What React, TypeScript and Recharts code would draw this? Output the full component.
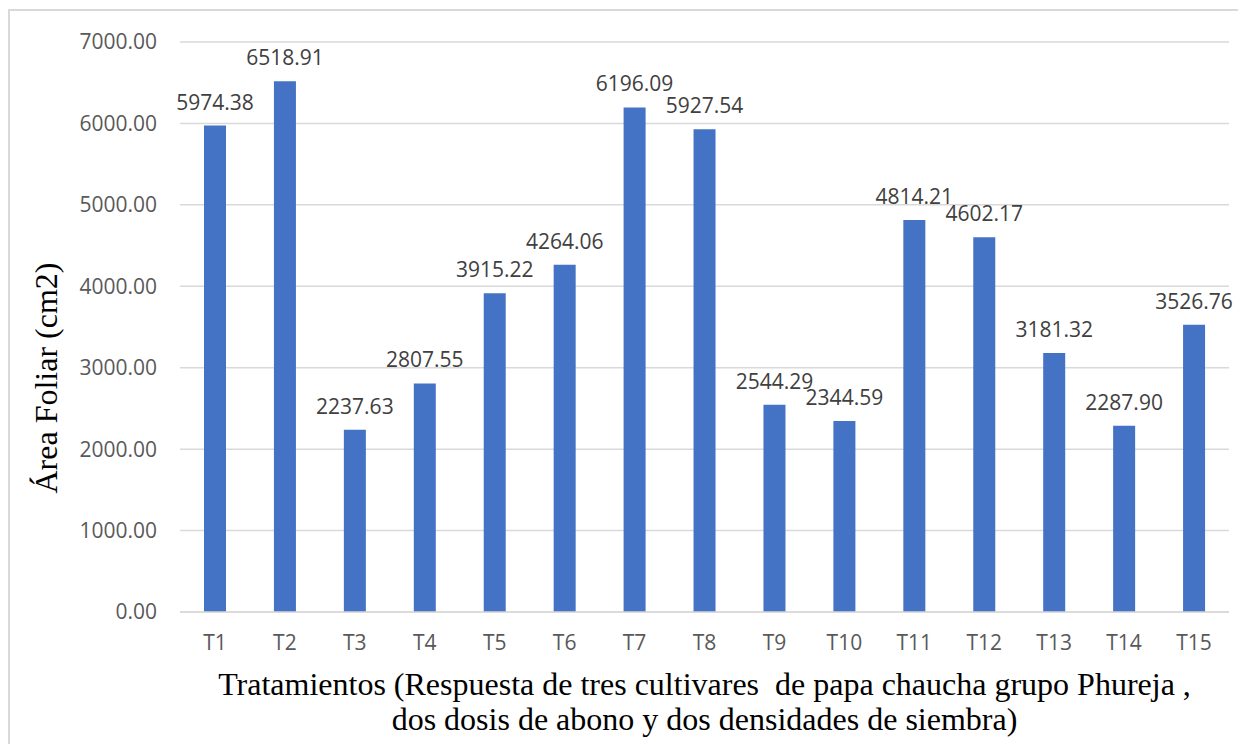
import { BarChart, Bar, XAxis, YAxis, CartesianGrid, LabelList, Label } from "recharts";

const tratamientos = ["T1", "T2", "T3", "T4", "T5", "T6", "T7", "T8", "T9", "T10", "T11", "T12", "T13", "T14", "T15"];
const areaFoliar = [5974.38, 6518.91, 2237.63, 2807.55, 3915.22, 4264.06, 6196.09, 5927.54, 2544.29, 2344.59, 4814.21, 4602.17, 3181.32, 2287.9, 3526.76];
const yTicks = [0, 1000, 2000, 3000, 4000, 5000, 6000, 7000];

const xTitle = [
  "Tratamientos (Respuesta de tres cultivares  de papa chaucha grupo Phureja ,",
  "dos dosis de abono y dos densidades de siembra)",
];
const yTitle = "Área Foliar (cm2)";

const data = tratamientos.map((t, i) => ({ name: t, value: areaFoliar[i] }));

const SANS = "'Open Sans', sans-serif";
const SERIF = "'Liberation Serif', 'Times New Roman', serif";
const BLUE = "#4472C4";
const GRID = "#d9d9d9";

const W = 1238;
const H = 736;

// two-line axis title under the category labels
const XTitle = ({ viewBox }: any) => {
  const cx = viewBox.x + viewBox.width / 2;
  return (
    <g>
      {xTitle.map((line, i) => (
        <text
          key={i}
          x={cx}
          y={687 + i * 35}
          textAnchor="middle"
          fontFamily={SERIF}
          fontSize={32}
          fill="#000"
          style={{ whiteSpace: "pre" }}
        >
          {line}
        </text>
      ))}
    </g>
  );
};

const YTitle = () => (
  <text
    x={38}
    y={370}
    transform="rotate(-90, 38, 370)"
    textAnchor="middle"
    dominantBaseline="central"
    fontFamily={SERIF}
    fontSize={32}
    fill="#000"
  >
    {yTitle}
  </text>
);

export default function App() {
  return (
    <div style={{ position: "relative", width: W, height: H }}>
      <BarChart width={W} height={H} data={data} margin={{ top: 34, right: 17, bottom: 0, left: 0 }} barSize={22}>
        <CartesianGrid vertical={false} stroke={GRID} strokeWidth={1.5} />
        <XAxis
          dataKey="name"
          height={132}
          tickLine={false}
          axisLine={{ stroke: GRID, strokeWidth: 1.5 }}
          tickMargin={17}
          tick={{ fontFamily: SANS, fontSize: 21, fill: "#595959" }}
          interval={0}
        >
          <Label content={<XTitle />} />
        </XAxis>
        <YAxis
          width={172}
          domain={[0, 7000]}
          ticks={yTicks}
          tickFormatter={(v: number) => v.toFixed(2)}
          tickLine={false}
          axisLine={false}
          tickMargin={17}
          tick={{ fontFamily: SANS, fontSize: 21, fill: "#595959" }}
        >
          <Label content={<YTitle />} />
        </YAxis>
        <Bar dataKey="value" fill={BLUE} isAnimationActive={false}>
          <LabelList
            dataKey="value"
            position="top"
            offset={16}
            formatter={(v: number) => v.toFixed(2)}
            style={{ fontFamily: SANS, fontSize: 21, fill: "#404040" }}
          />
        </Bar>
      </BarChart>
      <div
        style={{
          position: "absolute",
          left: 0,
          top: 1,
          right: -20,
          bottom: -20,
          borderLeft: `2px solid ${GRID}`,
          borderTop: `2px solid ${GRID}`,
          pointerEvents: "none",
        }}
      />
    </div>
  );
}
